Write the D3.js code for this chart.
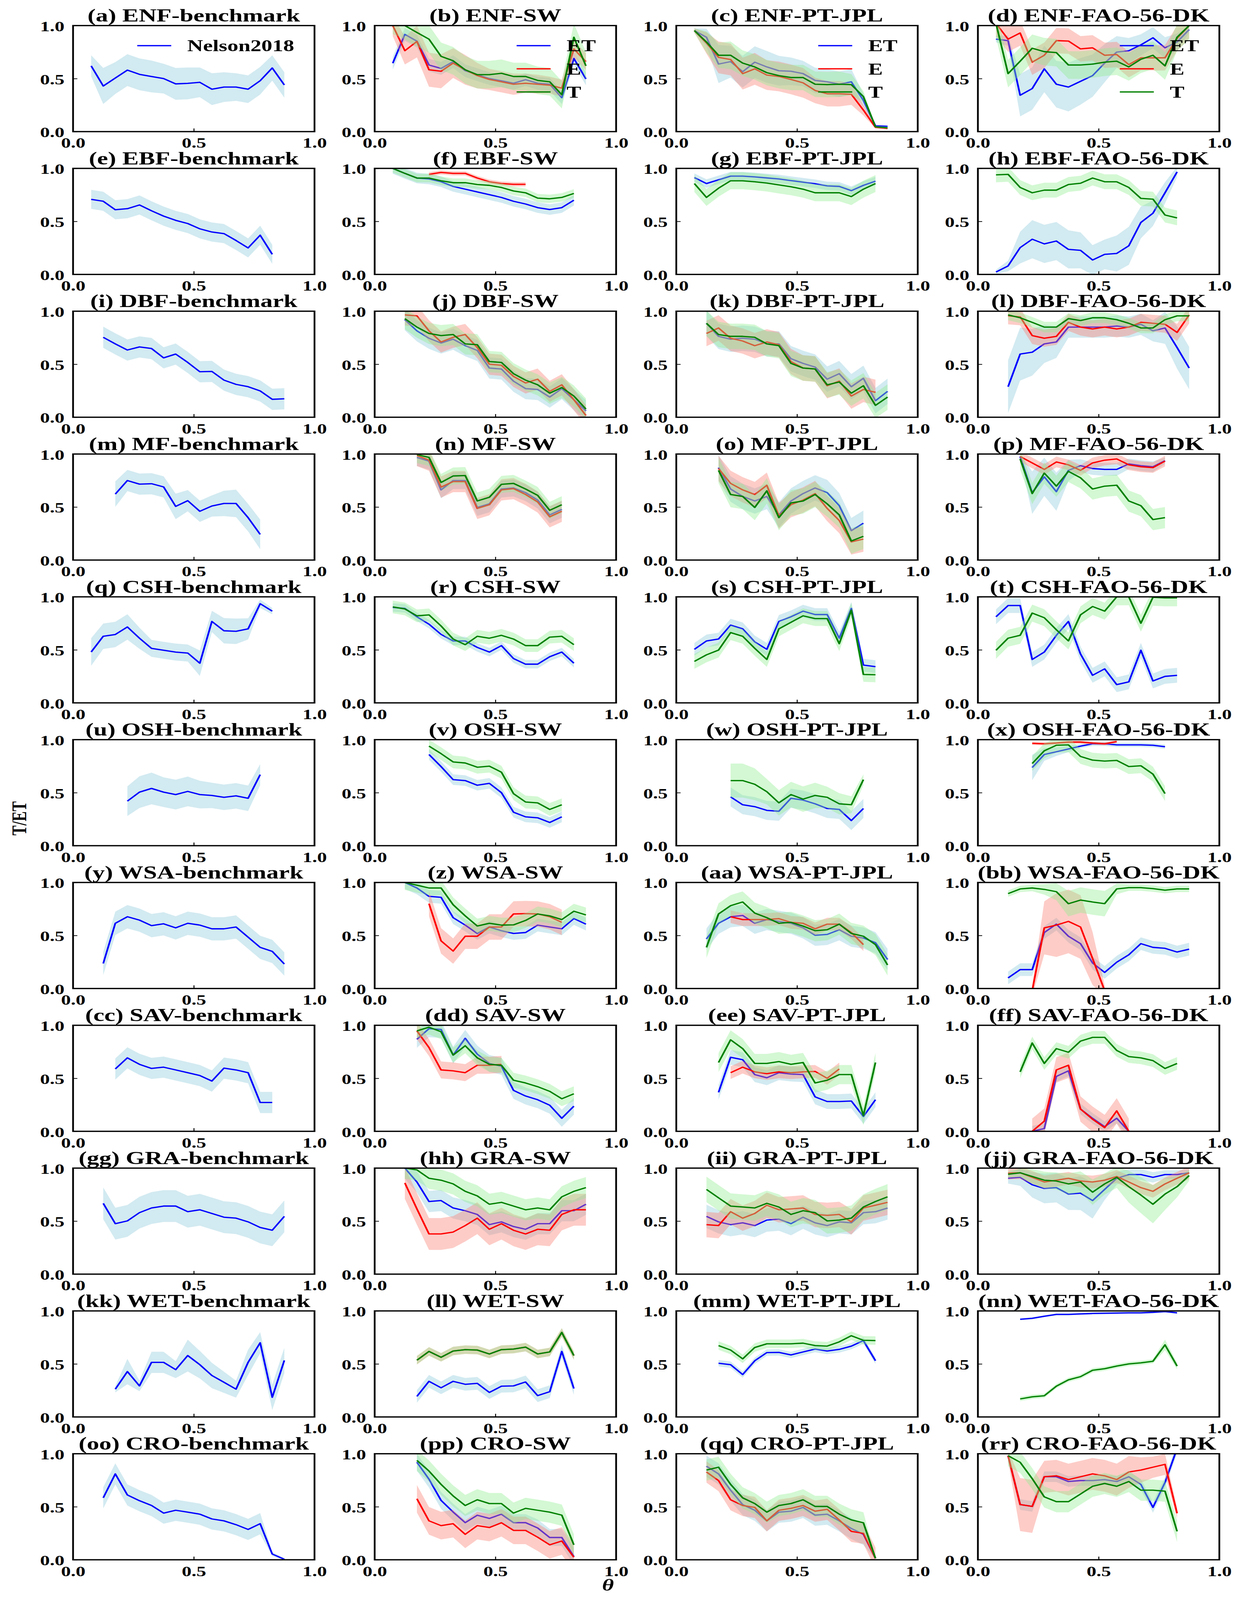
<!DOCTYPE html>
<html>
<head>
<meta charset="utf-8">
<script src="https://cdn.jsdelivr.net/npm/d3@7"></script>
<style>html,body{margin:0;padding:0;background:#fff;overflow:hidden}svg{display:block}</style>
</head>
<body>
<svg id="fig"></svg>
<script>
// panel labels
const letters = ["a","b","c","d","e","f","g","h","i","j","k","l","m","n","o","p","q","r","s","t","u","v","w","x","y","z",
  "aa","bb","cc","dd","ee","ff","gg","hh","ii","jj","kk","ll","mm","nn","oo","pp","qq","rr"];
const covers = ["ENF","EBF","DBF","MF","CSH","OSH","WSA","SAV","GRA","WET","CRO"];
const models = ["benchmark","SW","PT-JPL","FAO-56-DK"];
const legendBench = ["Nelson2018"];
const legendModel = ["ET","E","T"];
const tickVals = [0, 0.5, 1];

// soil moisture bin centres
const thetaBins = [0.075,0.125,0.175,0.225,0.275,0.325,0.375,0.425,0.475,0.525,0.575,0.625,0.675,0.725,0.775,0.825,0.875];

// first bin of each panel (index into thetaBins)
const startBin = [0,0,0,0, 0,0,0,0, 1,1,1,1, 2,2,2,2, 0,0,0,0, 3,3,3,3, 1,1,1,1, 2,2,2,2, 1,1,1,1, 2,2,2,2, 1,2,1,1];

// blue series (ET, or Nelson2018 in benchmark panels)
const etMid = [
  [0.62,0.43,0.505,0.58,0.54,0.52,0.50,0.45,0.455,0.465,0.40,0.42,0.42,0.40,0.48,0.60,0.44],
  [0.645,0.917,0.853,0.628,0.596,0.66,0.574,0.537,0.50,0.479,0.456,0.49,0.456,0.447,0.32,0.69,0.497],
  [0.953,0.89,0.637,0.66,0.565,0.655,0.61,0.574,0.569,0.547,0.483,0.47,0.447,0.47,0.294,0.054,0.05],
  [0.872,0.858,0.343,0.406,0.592,0.447,0.42,0.474,0.528,0.646,0.75,0.763,0.818,0.885,0.79,0.845,0.962],
  [0.708,0.69,0.61,0.62,0.655,0.60,0.55,0.51,0.48,0.43,0.40,0.385,0.32,0.25,0.37,0.19],
  [1.0,0.953,0.909,0.90,0.874,0.83,0.804,0.778,0.752,0.726,0.69,0.664,0.63,0.612,0.63,0.70],
  [0.913,0.857,0.892,0.927,0.927,0.92,0.91,0.90,0.885,0.87,0.855,0.835,0.83,0.79,0.84,0.88],
  [0.023,0.08,0.253,0.332,0.288,0.315,0.236,0.227,0.136,0.189,0.198,0.27,0.49,0.577,0.77,0.967],
  [0.754,0.692,0.634,0.663,0.648,0.56,0.596,0.517,0.429,0.432,0.35,0.31,0.288,0.248,0.169,0.174],
  [0.92,0.815,0.745,0.70,0.736,0.675,0.63,0.464,0.455,0.34,0.27,0.262,0.19,0.27,0.165,0.06],
  [0.886,0.763,0.736,0.745,0.736,0.692,0.692,0.552,0.508,0.473,0.359,0.411,0.288,0.367,0.156,0.244],
  [0.288,0.596,0.613,0.692,0.71,0.85,0.85,0.85,0.85,0.86,0.85,0.877,0.815,0.842,0.657,0.464],
  [0.622,0.75,0.716,0.72,0.69,0.506,0.56,0.46,0.51,0.534,0.534,0.40,0.242],
  [0.968,0.933,0.662,0.75,0.75,0.496,0.53,0.67,0.68,0.636,0.566,0.426,0.478],
  [0.872,0.67,0.60,0.557,0.60,0.426,0.557,0.627,0.68,0.636,0.513,0.277,0.347],
  [0.977,0.636,0.785,0.645,0.846,0.89,0.863,0.855,0.855,0.907,0.89,0.88,0.937],
  [0.48,0.628,0.645,0.716,0.61,0.514,0.496,0.479,0.47,0.374,0.768,0.68,0.675,0.698,0.935,0.865],
  [0.90,0.891,0.812,0.742,0.646,0.584,0.584,0.523,0.479,0.54,0.418,0.365,0.365,0.435,0.479,0.374],
  [0.505,0.584,0.602,0.733,0.698,0.575,0.505,0.768,0.812,0.865,0.833,0.833,0.61,0.891,0.356,0.342],
  [0.812,0.918,0.918,0.409,0.479,0.637,0.768,0.461,0.26,0.321,0.172,0.198,0.496,0.207,0.25,0.26],
  [0.42,0.505,0.54,0.505,0.482,0.512,0.482,0.474,0.456,0.47,0.447,0.67],
  [0.86,0.746,0.623,0.614,0.57,0.588,0.50,0.316,0.272,0.263,0.219,0.272],
  [0.46,0.386,0.368,0.333,0.325,0.447,0.43,0.395,0.351,0.342,0.237,0.351],
  [0.737,0.86,0.886,0.912,0.939,0.961,0.961,0.951,0.951,0.951,0.947,0.933],
  [0.236,0.615,0.677,0.645,0.593,0.61,0.572,0.615,0.598,0.563,0.563,0.58,0.484,0.388,0.35,0.231],
  [1.0,0.948,0.869,0.86,0.668,0.598,0.519,0.58,0.545,0.519,0.528,0.598,0.58,0.563,0.66,0.607],
  [0.467,0.615,0.677,0.689,0.615,0.65,0.633,0.615,0.572,0.502,0.51,0.554,0.493,0.476,0.432,0.274],
  [0.10,0.178,0.178,0.528,0.607,0.493,0.423,0.24,0.152,0.248,0.318,0.423,0.388,0.379,0.344,0.371],
  [0.588,0.693,0.632,0.593,0.605,0.579,0.553,0.526,0.474,0.596,0.579,0.553,0.272,0.272],
  [0.868,0.968,0.961,0.719,0.877,0.728,0.64,0.614,0.386,0.333,0.298,0.246,0.123,0.237],
  [0.368,0.698,0.675,0.535,0.505,0.553,0.54,0.535,0.325,0.281,0.281,0.286,0.14,0.298],
  [null,0.0,0.026,0.518,0.57,0.21,0.123,0.044,0.123,0.0],
  [0.668,0.476,0.502,0.58,0.624,0.642,0.642,0.589,0.607,0.572,0.537,0.528,0.493,0.44,0.414,0.545],
  [1.0,0.869,0.685,0.694,0.624,0.598,0.563,0.467,0.493,0.449,0.423,0.476,0.476,0.598,0.598,0.659],
  [0.545,0.493,0.467,0.484,0.458,0.51,0.519,0.476,0.537,0.484,0.458,0.493,0.484,0.58,0.589,0.624],
  [0.904,0.913,0.843,0.808,0.816,0.755,0.764,0.694,0.799,0.904,0.939,0.939,0.913,0.939,0.939,0.956],
  [0.262,0.428,0.293,0.515,0.515,0.446,0.579,0.493,0.391,0.327,0.262,0.515,0.70,0.185,0.533],
  [0.194,0.336,0.275,0.336,0.308,0.317,0.231,0.29,0.293,0.33,0.201,0.238,0.618,0.268],
  [0.507,0.493,0.40,0.53,0.607,0.609,0.585,0.613,0.64,0.622,0.637,0.668,0.72,0.53],
  [0.921,0.93,0.95,0.967,0.967,0.972,0.976,0.978,0.98,0.982,0.982,0.987,0.994,0.982],
  [0.584,0.81,0.611,0.557,0.512,0.44,0.467,0.449,0.43,0.385,0.367,0.331,0.286,0.34,0.054,0.005],
  [0.92,0.76,0.56,0.45,0.35,0.42,0.39,0.43,0.35,0.35,0.30,0.21,0.21,0.03],
  [0.882,0.81,0.656,0.52,0.467,0.367,0.449,0.458,0.494,0.421,0.43,0.367,0.295,0.24,0.014],
  [0.982,0.521,0.503,0.783,0.783,0.738,0.747,0.747,0.756,0.738,0.783,0.711,0.494,0.729,1.05]
];
const etSpread = [
  [0.1,0.17,0.15,0.15,0.15,0.15,0.14,0.15,0.15,0.14,0.15,0.14,0.13,0.13,0.13,0.12,0.12],
  0.06,
  [0.02,0.08,0.18,0.15,0.15,0.15,0.15,0.14,0.13,0.12,0.12,0.12,0.12,0.12,0.06,0.01,0.01],
  [0.03,0.05,0.2,0.2,0.22,0.22,0.23,0.22,0.2,0.18,0.15,0.12,0.1,0.1,0.1,0.08,0.03],
  0.09, 0.05, 0.04,
  [0.02,0.05,0.15,0.18,0.18,0.18,0.18,0.17,0.14,0.14,0.17,0.18,0.15,0.12,0.1,0.05],
  0.1, 0.1, 0.12,
  [0.25,0.25,0.22,0.18,0.15,0.1,0.1,0.1,0.1,0.1,0.1,0.1,0.1,0.15,0.2,0.2],
  [0.12,0.1,0.1,0.1,0.1,0.12,0.1,0.1,0.1,0.12,0.13,0.13,0.14],
  0.08, 0.12,
  [0.02,0.2,0.18,0.18,0.1,0.06,0.06,0.06,0.06,0.05,0.05,0.05,0.03],
  [0.13,0.12,0.12,0.12,0.1,0.08,0.08,0.08,0.08,0.12,0.1,0.12,0.12,0.1,0.04,0.03],
  0.04, 0.06, 0.07,
  [0.14,0.15,0.15,0.14,0.14,0.14,0.13,0.12,0.12,0.12,0.12,0.1],
  0.05, 0.09,
  [0.12,0.06,0.04,0.03,0.02,0.02,0.02,0.02,0.02,0.02,0.02,0.02],
  0.11, 0.06, 0.1, 0.06,
  0.1, 0.08, 0.07, 0.05,
  0.15, 0.1, 0.11,
  [0.05,0.08,0.12,0.14,0.14,0.15,0.16,0.17,0.1,0.06,0.05,0.05,0.05,0.04,0.04,0.03],
  [0.03,0.12,0.05,0.1,0.1,0.08,0.15,0.13,0.12,0.1,0.08,0.12,0.1,0.12,0.12],
  0.06, 0.03, 0.01,
  [0.1,0.1,0.1,0.1,0.1,0.1,0.1,0.1,0.1,0.1,0.1,0.1,0.1,0.1,0.02,0.01],
  0.08,
  [0.1,0.1,0.1,0.1,0.1,0.1,0.1,0.1,0.1,0.1,0.1,0.1,0.1,0.1,0.01],
  0.05
];

// red series (E)
const eMid = [
  null,
  [1.0,0.763,0.85,0.583,0.569,0.646,0.583,0.528,0.492,0.47,0.447,0.456,0.447,0.438,0.41,0.78,0.66],
  [0.953,0.836,0.70,0.68,0.547,0.592,0.533,0.52,0.492,0.46,0.388,0.357,0.357,0.352,0.203,0.04,0.03],
  [1.02,0.872,0.93,0.655,0.72,0.858,0.854,0.78,0.79,0.72,0.727,0.632,0.696,0.696,0.696,0.88,1.0],
  null,
  [null,null,null,0.944,0.962,0.953,0.953,0.909,0.874,0.857,0.85,0.85],
  null, null, null,
  [0.965,0.956,0.815,0.71,0.754,0.78,0.657,0.50,0.49,0.385,0.323,0.359,0.244,0.306,0.165,0.016],
  [0.79,0.842,0.745,0.719,0.675,0.71,0.684,0.525,0.464,0.455,0.297,0.341,0.20,0.262,0.235],
  [0.956,0.947,0.77,0.745,0.763,0.895,0.85,0.833,0.85,0.833,0.85,0.895,0.886,0.877,0.80,0.965],
  null,
  [0.986,0.942,0.688,0.74,0.74,0.487,0.522,0.662,0.674,0.618,0.548,0.408,0.46],
  [0.863,0.723,0.662,0.618,0.705,0.417,0.522,0.566,0.627,0.487,0.373,0.172,0.198],
  [0.977,0.916,0.855,0.925,0.898,0.846,0.916,0.942,0.954,0.898,0.88,0.872,0.933],
  null, null, null, null,
  null, null, null,
  [0.965,0.961,0.968,0.977,0.977,0.968,0.961,0.982],
  null,
  [null,null,0.80,0.449,0.353,0.493,0.493,0.58,0.58,0.703,0.706,0.703,0.677,0.624],
  [null,null,0.677,0.65,0.65,0.65,0.659,0.624,0.615,0.563,0.607,0.607,0.528,0.414],
  [null,null,-0.02,0.572,0.598,0.633,0.58,0.283,-0.02],
  null,
  [0.947,0.79,0.579,0.57,0.553,0.623,0.623,0.632],
  [null,0.553,0.605,0.561,0.544,0.561,0.553,0.561,0.565,0.50,0.588],
  [null,0.0,0.096,0.579,0.623,0.21,0.114,0.035,0.193,0.0],
  null,
  [0.86,0.615,0.379,0.379,0.397,0.458,0.528,0.423,0.476,0.414,0.379,0.423,0.414,0.563,0.607,0.607],
  [0.467,0.458,0.589,0.528,0.572,0.65,0.607,0.615,0.624,0.563,0.554,0.563,0.493,0.624,0.65,0.677],
  [0.953,0.956,0.913,0.869,0.886,0.904,0.878,0.869,0.886,0.921,0.869,0.816,0.781,0.851,0.904,0.956],
  null,
  [0.535,0.618,0.563,0.622,0.635,0.631,0.594,0.635,0.64,0.659,0.594,0.613,0.797,0.579],
  null, null,
  null,
  [0.575,0.367,0.322,0.34,0.24,0.322,0.304,0.349,0.277,0.277,0.213,0.141,0.177,0.024],
  [0.828,0.747,0.566,0.512,0.494,0.367,0.467,0.485,0.512,0.458,0.476,0.376,0.268,0.25,0.014],
  [0.982,0.521,0.503,0.783,0.792,0.756,0.783,0.81,0.792,0.756,0.828,0.846,0.873,0.90,0.439]
];
const eSpread = [
  0,
  [0.1,0.13,0.15,0.16,0.16,0.14,0.14,0.12,0.1,0.1,0.1,0.09,0.09,0.08,0.08,0.08,0.08],
  [0.02,0.1,0.15,0.15,0.15,0.15,0.14,0.14,0.14,0.14,0.12,0.12,0.12,0.1,0.05,0.01,0.01],
  0.12, 0, 0.02, 0, 0, 0, 0.1, 0.12, 0.08,
  0, 0.1, 0.12, 0.05,
  0, 0, 0, 0,
  0, 0, 0, 0.015,
  0, 0.12, 0.06,
  [0,0,0.05,0.25,0.3,0.3,0.3,0.25,0.05],
  0, 0.08, 0.06, 0.12,
  0, 0.15, 0.12, 0.06,
  0, 0.04, 0, 0,
  0, 0.13, 0.1,
  [0.05,0.25,0.25,0.15,0.15,0.15,0.15,0.15,0.15,0.15,0.15,0.12,0.1,0.1,0.05]
];

// green series (T)
const tMid = [
  null,
  [1.05,1.0,0.935,0.872,0.71,0.668,0.583,0.537,0.537,0.55,0.52,0.52,0.483,0.47,0.348,0.89,0.62],
  [0.953,0.845,0.72,0.72,0.646,0.61,0.556,0.528,0.51,0.51,0.447,0.443,0.447,0.443,0.33,0.045,0.036],
  [1.02,0.547,0.664,0.786,0.754,0.745,0.628,0.628,0.637,0.655,0.664,0.61,0.682,0.72,0.62,0.89,1.0],
  null,
  [1.0,0.953,0.909,0.909,0.883,0.865,0.865,0.848,0.84,0.82,0.787,0.77,0.72,0.713,0.726,0.764],
  [0.857,0.726,0.813,0.883,0.883,0.874,0.862,0.844,0.827,0.804,0.77,0.77,0.77,0.734,0.804,0.857],
  [0.939,0.944,0.82,0.77,0.795,0.795,0.848,0.86,0.909,0.874,0.874,0.82,0.717,0.71,0.56,0.533],
  null,
  [0.93,0.85,0.79,0.77,0.78,0.692,0.684,0.525,0.517,0.411,0.35,0.306,0.227,0.28,0.20,0.077],
  [0.886,0.78,0.763,0.763,0.754,0.692,0.675,0.508,0.464,0.455,0.306,0.332,0.227,0.297,0.112,0.19],
  [0.965,0.938,0.895,0.85,0.85,0.93,0.912,0.938,0.938,0.92,0.886,0.842,0.842,0.92,0.956,0.956],
  null,
  [0.995,0.968,0.732,0.793,0.797,0.557,0.592,0.714,0.723,0.67,0.61,0.469,0.522],
  [0.846,0.618,0.60,0.496,0.653,0.40,0.539,0.557,0.618,0.53,0.426,0.18,0.224],
  [0.954,0.627,0.82,0.697,0.837,0.776,0.67,0.697,0.706,0.557,0.513,0.382,0.40],
  null,
  [0.905,0.886,0.821,0.83,0.725,0.602,0.549,0.628,0.61,0.637,0.602,0.54,0.54,0.62,0.628,0.549],
  [0.391,0.453,0.498,0.663,0.628,0.514,0.409,0.698,0.76,0.821,0.795,0.795,0.558,0.874,0.268,0.265],
  [0.496,0.61,0.637,0.847,0.803,0.689,0.584,0.83,0.909,0.865,1.0,1.0,0.751,0.996,0.99,0.99],
  null,
  [0.939,0.868,0.79,0.78,0.74,0.75,0.693,0.491,0.412,0.404,0.342,0.386],
  [0.614,0.614,0.579,0.509,0.404,0.482,0.439,0.474,0.456,0.395,0.386,0.623],
  [0.775,0.895,0.947,0.951,0.842,0.807,0.798,0.804,0.746,0.754,0.675,0.491],
  null,
  [1.0,0.974,0.948,0.948,0.79,0.685,0.589,0.615,0.598,0.60,0.642,0.703,0.685,0.65,0.729,0.694],
  [0.388,0.703,0.781,0.816,0.711,0.668,0.615,0.624,0.589,0.545,0.554,0.607,0.519,0.493,0.414,0.222],
  [0.895,0.939,0.948,0.935,0.913,0.80,0.834,0.816,0.80,0.939,0.951,0.951,0.942,0.927,0.939,0.939],
  null,
  [0.947,0.982,0.939,0.719,0.807,0.693,0.632,0.623,0.482,0.456,0.421,0.377,0.307,0.354],
  [0.649,0.863,0.78,0.64,0.64,0.658,0.632,0.649,0.456,0.482,0.535,0.535,0.149,0.649],
  [0.561,0.833,0.64,0.78,0.746,0.851,0.886,0.886,0.763,0.705,0.693,0.667,0.593,0.64],
  null,
  [1.0,0.983,0.904,0.886,0.851,0.781,0.738,0.659,0.677,0.642,0.607,0.624,0.607,0.729,0.781,0.816],
  [0.799,0.72,0.642,0.633,0.624,0.668,0.633,0.563,0.598,0.58,0.502,0.51,0.528,0.633,0.685,0.729],
  [0.942,0.956,0.921,0.886,0.878,0.851,0.869,0.773,0.851,0.913,0.825,0.746,0.659,0.755,0.825,0.93],
  null,
  [0.535,0.618,0.563,0.622,0.635,0.631,0.594,0.635,0.64,0.659,0.594,0.613,0.797,0.579],
  [0.673,0.631,0.548,0.655,0.69,0.69,0.69,0.696,0.673,0.668,0.708,0.766,0.723,0.72],
  [0.17,0.19,0.20,0.29,0.35,0.38,0.44,0.455,0.48,0.50,0.51,0.525,0.68,0.48],
  null,
  [0.937,0.837,0.711,0.602,0.512,0.566,0.53,0.53,0.44,0.485,0.467,0.449,0.421,0.141],
  [0.846,0.873,0.711,0.584,0.53,0.449,0.512,0.53,0.566,0.503,0.503,0.43,0.376,0.349,0.014],
  [0.982,0.919,0.765,0.593,0.548,0.548,0.62,0.693,0.72,0.693,0.738,0.656,0.656,0.647,0.268]
];
const tSpread = [
  0, 0.13,
  [0.02,0.1,0.12,0.13,0.12,0.12,0.12,0.12,0.12,0.12,0.12,0.12,0.12,0.1,0.05,0.01,0.01],
  0.13,
  0, 0.04, 0.08, 0.07,
  0, 0.1, 0.12, 0.05,
  0, 0.08, 0.12, 0.1,
  0, 0.06, 0.07, 0.08,
  0, 0.06, [0.16,0.16,0.15,0.12,0.12,0.12,0.12,0.12,0.1,0.1,0.08,0.05], 0.07,
  0, 0.07, 0.1,
  [0.03,0.03,0.03,0.05,0.08,0.12,0.12,0.12,0.12,0.05,0.03,0.03,0.03,0.03,0.03,0.03],
  0, 0.07, 0.09, 0.06,
  0, 0.1, 0.12,
  [0.03,0.04,0.07,0.08,0.08,0.1,0.1,0.12,0.1,0.1,0.15,0.17,0.18,0.15,0.1,0.05],
  0, 0.04, 0.04, [0.02,0.02,0.02,0.02,0.02,0.02,0.02,0.02,0.02,0.02,0.02,0.02,0.05,0.03],
  0, 0.1,
  [0.1,0.1,0.1,0.1,0.1,0.1,0.1,0.1,0.1,0.1,0.1,0.1,0.1,0.1,0.01],
  0.1
];

// figure drawn in 3179x5568 units, fitted to the visible window
const width = 3179, height = 5568;
const left0 = 187, top0 = 89, colStep = 772, rowStep = 497;
const pw = 618, ph = 369;
const serif = "'Liberation Serif','Times New Roman',serif";

const svg = d3.select("#fig")
  .attr("width", window.innerWidth || width)
  .attr("height", window.innerHeight || height)
  .attr("viewBox", `0 0 ${width} ${height}`)
  .attr("preserveAspectRatio", "none")
  .attr("font-family", serif);

svg.append("rect").attr("width", width).attr("height", height).attr("fill", "#fff");

svg.append("defs").append("clipPath")
  .attr("id", "clip")
  .append("rect").attr("width", pw).attr("height", ph);

const x = d3.scaleLinear().domain([0, 1]).range([0, pw]);
const y = d3.scaleLinear().domain([0, 1]).range([ph, 0]);

const series = [
  {mid: etMid, spread: etSpread, color: "#0000ff", fill: "lightblue", op: 0.55},
  {mid: eMid, spread: eSpread, color: "#ff0000", fill: "salmon", op: 0.4},
  {mid: tMid, spread: tSpread, color: "#008000", fill: "lightgreen", op: 0.4}
];

const area = d3.area().defined(d => d).x(d => x(d.x)).y0(d => y(d.y - d.s)).y1(d => y(d.y + d.s));
const line = d3.line().defined(d => d).x(d => x(d.x)).y(d => y(d.y));

letters.forEach((letter, i) => {
  const row = Math.floor(i / 4), col = i % 4;
  const g = svg.append("g")
    .attr("transform", `translate(${left0 + col * colStep},${top0 + row * rowStep})`);

  const plot = g.append("g").attr("clip-path", "url(#clip)");
  series.forEach(s => {
    const vals = s.mid[i];
    if (!vals) return;
    const sp = s.spread[i];
    const pts = vals.map((v, k) => v == null ? null :
      {x: thetaBins[startBin[i] + k], y: v, s: Array.isArray(sp) ? sp[k] : sp});
    plot.append("path").datum(pts)
      .attr("d", area)
      .attr("fill", s.fill)
      .attr("fill-opacity", s.op);
    plot.append("path").datum(pts)
      .attr("d", line)
      .attr("fill", "none")
      .attr("stroke", s.color)
      .attr("stroke-width", 4.5)
      .attr("stroke-linejoin", "round");
  });

  // axes, ticks pointing inward
  const xa = g.append("g")
    .attr("transform", `translate(0,${ph})`)
    .call(d3.axisBottom(x).tickValues(tickVals).tickFormat(d3.format(".1f")).tickSize(-11).tickPadding(21));
  const ya = g.append("g")
    .call(d3.axisLeft(y).tickValues(tickVals).tickFormat(d3.format(".1f")).tickSize(-11).tickPadding(22));
  [xa, ya].forEach(a => {
    a.select(".domain").remove();
    a.attr("font-family", serif).attr("font-size", 50).attr("font-weight", "bold");
    a.selectAll("line").attr("stroke", "#000").attr("stroke-width", 2.5);
    a.selectAll("text").attr("fill", "#000");
  });
  ya.selectAll("text").attr("dy", "0.38em");

  g.append("rect")
    .attr("width", pw).attr("height", ph)
    .attr("fill", "none").attr("stroke", "#000").attr("stroke-width", 4.5);

  g.append("text")
    .attr("x", pw / 2).attr("y", -14)
    .attr("text-anchor", "middle")
    .attr("font-size", 63).attr("font-weight", "bold")
    .text(`(${letter}) ${covers[row]}-${models[col]}`);

  // legends only on the first row
  if (row === 0) {
    const labels = col === 0 ? legendBench : legendModel;
    const lg = g.append("g");
    const texts = lg.selectAll("text").data(labels).join("text")
      .attr("y", (d, k) => 70 + k * 80.5)
      .attr("dy", "0.35em")
      .attr("font-size", 56).attr("font-weight", "bold")
      .text(d => d);
    const maxW = d3.max(texts.nodes(), n => n.getComputedTextLength());
    const tx = 566 - maxW;
    texts.attr("x", tx);
    lg.selectAll("line").data(labels).join("line")
      .attr("x1", tx - 128).attr("x2", tx - 41)
      .attr("y1", (d, k) => 70 + k * 80.5).attr("y2", (d, k) => 70 + k * 80.5)
      .attr("stroke", (d, k) => series[k].color)
      .attr("stroke-width", 4.5);
  }
});

// shared axis labels
svg.append("text")
  .attr("transform", "translate(67,2848) rotate(-90)")
  .attr("text-anchor", "middle")
  .attr("font-size", 52).attr("font-weight", "bold")
  .text("T/ET");

svg.append("text")
  .attr("x", 1556).attr("y", 5535)
  .attr("text-anchor", "middle")
  .attr("font-size", 58).attr("font-weight", "bold").attr("font-style", "italic")
  .text("θ");
</script>
</body>
</html>
